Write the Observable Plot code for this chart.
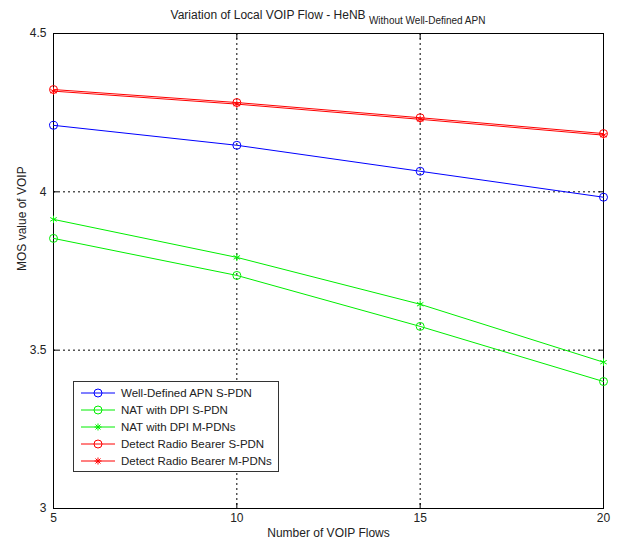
<!DOCTYPE html>
<html><head><meta charset="utf-8">
<script src="https://cdn.jsdelivr.net/npm/d3@7"></script>
<script src="https://cdn.jsdelivr.net/npm/@observablehq/plot@0.6"></script>
<style>
body{margin:0;background:#fff;font-family:"Liberation Sans",Arial,sans-serif;}
#wrap{position:relative;width:621px;height:545px;}
#title{position:absolute;top:8px;left:53px;width:550px;text-align:center;font-size:12px;color:#222;z-index:2;}
#title sub{font-size:10px;vertical-align:-5px;}
#chart{position:absolute;top:0;left:0;}
#legend{position:absolute;left:73px;top:381px;width:206px;height:91px;border:1px solid #333;background:#fff;font-size:11.5px;color:#222;box-sizing:border-box;padding-top:3px;white-space:nowrap;}
.row{height:16.8px;display:flex;align-items:center;}
.row svg{margin-left:7px;margin-right:6px;flex:none;}
</style></head>
<body><div id="wrap">
<div id="chart"></div>
<div id="title">Variation of Local VOIP Flow - HeNB <sub>Without Well-Defined APN</sub></div>
<div id="legend"></div>
</div>
<script>
const flows = [5, 10, 15, 20];
const seriesNames = ["Well-Defined APN S-PDN","NAT with DPI S-PDN","NAT with DPI M-PDNs","Detect Radio Bearer S-PDN","Detect Radio Bearer M-PDNs"];
const seriesColors = ["#0000ff","#00ee00","#00ee00","#ff0000","#ff0000"];
const seriesMarkers = ["circle","circle","asterisk","circle","asterisk"];
const wellDefinedSPDN = [4.21, 4.147, 4.065, 3.983];
const natDpiSPDN = [3.853, 3.736, 3.575, 3.401];
const natDpiMPDN = [3.913, 3.793, 3.645, 3.462];
const detectRadioSPDN = [4.323, 4.282, 4.234, 4.184];
const detectRadioMPDN = [4.318, 4.277, 4.229, 4.179];
const xTicks = [5, 10, 15, 20];
const yTicks = [3, 3.5, 4, 4.5];
const allValues = [wellDefinedSPDN, natDpiSPDN, natDpiMPDN, detectRadioSPDN, detectRadioMPDN];

const rows = [];
allValues.forEach((vals, i) => vals.forEach((v, j) => rows.push({x: flows[j], y: v, s: seriesNames[i]})));

const marks = [
  Plot.gridX([10, 15], {stroke: "#000", strokeOpacity: 1, strokeDasharray: "2,3"}),
  Plot.gridY([3.5, 4], {stroke: "#000", strokeOpacity: 1, strokeDasharray: "2,3"}),
  Plot.frame({stroke: "#000"}),
  Plot.axisX(xTicks, {anchor: "bottom", tickSize: -5, tickPadding: 10, fontSize: 12, fill: "#222", label: null, tickFormat: d => d}),
  Plot.axisX(xTicks, {anchor: "top", tickSize: -5, tickFormat: () => "", label: null}),
  Plot.axisY(yTicks, {anchor: "left", tickSize: -5, tickPadding: 12, fontSize: 12, fill: "#222", label: null, tickFormat: d => d}),
  Plot.axisY(yTicks, {anchor: "right", tickSize: -5, tickFormat: () => "", label: null}),
  Plot.text(["Number of VOIP Flows"], {frameAnchor: "bottom", dy: 28, text: d => d, fontSize: 12, fill: "#222"}),
  Plot.text(["MOS value of VOIP"], {frameAnchor: "left", dx: -31, rotate: -90, text: d => d, fontSize: 12, fill: "#222"})
];
seriesNames.forEach((name, i) => {
  const d = rows.filter(r => r.s === name);
  marks.push(Plot.line(d, {x: "x", y: "y", stroke: seriesColors[i], strokeWidth: 1}));
  marks.push(Plot.dot(d, {x: "x", y: "y", stroke: seriesColors[i], fill: "none", symbol: seriesMarkers[i], r: seriesMarkers[i] === "circle" ? 4 : 3.5, strokeWidth: 1}));
});

const chart = Plot.plot({
  width: 621, height: 545,
  marginTop: 33, marginLeft: 53, marginRight: 18, marginBottom: 37,
  style: {fontFamily: "'Liberation Sans', Arial, sans-serif", background: "#fff"},
  x: {domain: [5, 20]},
  y: {domain: [3, 4.5]},
  marks
});
document.getElementById("chart").appendChild(chart);

const leg = document.getElementById("legend");
seriesNames.forEach((name, i) => {
  const row = document.createElement("div");
  row.className = "row";
  const c = seriesColors[i];
  const sym = seriesMarkers[i] === "circle"
    ? `<circle cx="17" cy="6" r="4" fill="none" stroke="${c}"/>`
    : `<path d="M17,2.5V9.5M13.5,6H20.5M14.5,3.5L19.5,8.5M19.5,3.5L14.5,8.5" stroke="${c}"/>`;
  row.innerHTML = `<svg width="34" height="12"><line x1="0" x2="34" y1="6" y2="6" stroke="${c}"/>${sym}</svg><span>${name}</span>`;
  leg.appendChild(row);
});
</script>
</body></html>
